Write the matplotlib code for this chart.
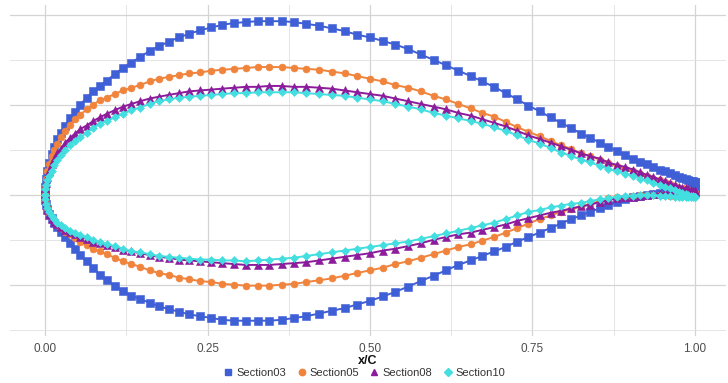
import matplotlib
matplotlib.use("Agg")
import matplotlib.pyplot as plt
from matplotlib.lines import Line2D

plt.rcParams["font.family"] = ["Liberation Sans", "DejaVu Sans"]

# chordwise stations (x/C), shared by all sections and both surfaces
x_c = [0.0, 0.0004, 0.0015, 0.0035, 0.006, 0.010, 0.014, 0.019, 0.024, 0.031,
       0.038, 0.046, 0.054, 0.064, 0.074, 0.084, 0.095, 0.107, 0.120, 0.133,
       0.146, 0.161, 0.175, 0.190, 0.206, 0.222, 0.239, 0.256, 0.273, 0.291,
       0.309, 0.327, 0.345, 0.364, 0.383, 0.402, 0.422, 0.441, 0.461, 0.480,
       0.500, 0.520, 0.539, 0.559, 0.578, 0.598, 0.617, 0.636, 0.655, 0.673,
       0.691, 0.709, 0.727, 0.744, 0.761, 0.778, 0.794, 0.810, 0.825, 0.839,
       0.854, 0.867, 0.880, 0.893, 0.905, 0.916, 0.926, 0.936, 0.946, 0.954,
       0.962, 0.969, 0.976, 0.981, 0.986, 0.990, 0.994, 0.997, 0.9996, 1.0]

sec03_upper = [0.000, 0.009, 0.018, 0.027, 0.035, 0.045, 0.053, 0.062, 0.069, 0.077,
               0.085, 0.092, 0.100, 0.108, 0.115, 0.121, 0.127, 0.134, 0.141, 0.147,
               0.153, 0.160, 0.165, 0.170, 0.175, 0.179, 0.183, 0.186, 0.189, 0.191,
               0.192, 0.193, 0.193, 0.193, 0.192, 0.190, 0.188, 0.185, 0.182, 0.178,
               0.175, 0.171, 0.167, 0.162, 0.156, 0.150, 0.144, 0.138, 0.132, 0.126,
               0.120, 0.113, 0.106, 0.099, 0.093, 0.086, 0.080, 0.074, 0.068, 0.063,
               0.058, 0.053, 0.049, 0.044, 0.040, 0.037, 0.034, 0.031, 0.028, 0.026,
               0.024, 0.022, 0.020, 0.019, 0.017, 0.016, 0.015, 0.015, 0.014, 0.014]
sec03_lower = [0.000, -0.005, -0.010, -0.016, -0.021, -0.026, -0.031, -0.036, -0.041, -0.047,
               -0.054, -0.060, -0.067, -0.074, -0.081, -0.089, -0.095, -0.101, -0.107, -0.112,
               -0.116, -0.120, -0.124, -0.127, -0.130, -0.133, -0.135, -0.137, -0.139, -0.140,
               -0.140, -0.140, -0.140, -0.139, -0.137, -0.135, -0.132, -0.129, -0.126, -0.122,
               -0.118, -0.113, -0.108, -0.102, -0.096, -0.090, -0.084, -0.078, -0.073, -0.068,
               -0.063, -0.058, -0.052, -0.047, -0.042, -0.037, -0.032, -0.027, -0.023, -0.019,
               -0.015, -0.011, -0.008, -0.005, -0.003, -0.001, 0.000, 0.001, 0.002, 0.003,
               0.003, 0.004, 0.004, 0.005, 0.005, 0.005, 0.006, 0.006, 0.006, 0.006]

sec05_upper = [0.000, 0.009, 0.017, 0.026, 0.034, 0.043, 0.050, 0.057, 0.064, 0.071,
               0.078, 0.084, 0.089, 0.095, 0.100, 0.105, 0.108, 0.112, 0.116, 0.119,
               0.122, 0.126, 0.129, 0.131, 0.133, 0.135, 0.136, 0.138, 0.139, 0.140,
               0.141, 0.142, 0.142, 0.142, 0.141, 0.140, 0.139, 0.137, 0.135, 0.132,
               0.129, 0.126, 0.122, 0.119, 0.115, 0.110, 0.106, 0.101, 0.096, 0.091,
               0.087, 0.081, 0.075, 0.070, 0.065, 0.060, 0.055, 0.051, 0.046, 0.043,
               0.039, 0.035, 0.032, 0.029, 0.026, 0.023, 0.021, 0.018, 0.016, 0.014,
               0.012, 0.010, 0.008, 0.007, 0.006, 0.005, 0.004, 0.003, 0.002, 0.002]
sec05_lower = [0.000, -0.005, -0.009, -0.015, -0.020, -0.026, -0.030, -0.034, -0.037, -0.041,
               -0.044, -0.048, -0.052, -0.056, -0.060, -0.063, -0.066, -0.070, -0.074, -0.077,
               -0.080, -0.084, -0.087, -0.089, -0.092, -0.094, -0.096, -0.097, -0.099, -0.100,
               -0.101, -0.101, -0.101, -0.100, -0.099, -0.097, -0.095, -0.093, -0.090, -0.087,
               -0.084, -0.081, -0.077, -0.074, -0.070, -0.066, -0.062, -0.058, -0.055, -0.051,
               -0.047, -0.042, -0.037, -0.032, -0.027, -0.023, -0.019, -0.016, -0.013, -0.010,
               -0.007, -0.004, -0.003, -0.002, -0.001, 0.000, 0.000, 0.000, 0.000, 0.000,
               -0.001, -0.001, -0.001, -0.001, -0.001, -0.001, -0.001, -0.001, -0.001, -0.001]

sec08_upper = [0.000, 0.007, 0.013, 0.020, 0.026, 0.034, 0.040, 0.046, 0.051, 0.058,
               0.063, 0.068, 0.073, 0.077, 0.082, 0.086, 0.090, 0.094, 0.098, 0.101,
               0.104, 0.107, 0.109, 0.111, 0.113, 0.115, 0.116, 0.117, 0.118, 0.119,
               0.120, 0.120, 0.121, 0.121, 0.120, 0.120, 0.119, 0.118, 0.116, 0.114,
               0.112, 0.110, 0.107, 0.104, 0.101, 0.098, 0.095, 0.091, 0.088, 0.084,
               0.080, 0.076, 0.071, 0.066, 0.062, 0.058, 0.054, 0.050, 0.046, 0.043,
               0.040, 0.036, 0.033, 0.031, 0.028, 0.025, 0.022, 0.020, 0.017, 0.015,
               0.013, 0.011, 0.009, 0.008, 0.007, 0.006, 0.005, 0.004, 0.004, 0.004]
sec08_lower = [0.000, -0.006, -0.011, -0.017, -0.022, -0.027, -0.030, -0.033, -0.036, -0.039,
               -0.041, -0.044, -0.047, -0.049, -0.052, -0.054, -0.056, -0.058, -0.061, -0.063,
               -0.065, -0.067, -0.069, -0.070, -0.072, -0.073, -0.074, -0.075, -0.076, -0.077,
               -0.078, -0.078, -0.078, -0.077, -0.076, -0.075, -0.073, -0.071, -0.069, -0.067,
               -0.065, -0.062, -0.060, -0.057, -0.054, -0.050, -0.047, -0.044, -0.042, -0.039,
               -0.036, -0.033, -0.029, -0.026, -0.023, -0.020, -0.018, -0.015, -0.013, -0.011,
               -0.008, -0.006, -0.004, -0.003, -0.002, -0.001, 0.000, 0.001, 0.001, 0.002,
               0.002, 0.002, 0.003, 0.003, 0.003, 0.003, 0.003, 0.003, 0.003, 0.003]

sec10_upper = [0.000, 0.006, 0.011, 0.016, 0.021, 0.027, 0.033, 0.039, 0.044, 0.050,
               0.055, 0.060, 0.064, 0.069, 0.074, 0.079, 0.082, 0.086, 0.090, 0.094,
               0.097, 0.101, 0.104, 0.106, 0.108, 0.109, 0.110, 0.111, 0.112, 0.113,
               0.113, 0.114, 0.114, 0.114, 0.114, 0.113, 0.112, 0.111, 0.110, 0.108,
               0.106, 0.104, 0.101, 0.098, 0.095, 0.091, 0.088, 0.085, 0.082, 0.079,
               0.075, 0.071, 0.066, 0.061, 0.057, 0.052, 0.047, 0.043, 0.039, 0.036,
               0.032, 0.029, 0.026, 0.023, 0.021, 0.018, 0.016, 0.013, 0.011, 0.009,
               0.007, 0.005, 0.003, 0.002, 0.001, 0.000, -0.001, -0.001, -0.002, -0.002]
sec10_lower = [0.000, -0.005, -0.010, -0.015, -0.019, -0.024, -0.027, -0.031, -0.034, -0.037,
               -0.040, -0.043, -0.045, -0.047, -0.050, -0.053, -0.055, -0.057, -0.060, -0.063,
               -0.064, -0.066, -0.068, -0.069, -0.070, -0.071, -0.072, -0.072, -0.073, -0.073,
               -0.074, -0.073, -0.072, -0.071, -0.070, -0.068, -0.066, -0.064, -0.062, -0.060,
               -0.058, -0.056, -0.054, -0.052, -0.049, -0.046, -0.043, -0.040, -0.037, -0.034,
               -0.031, -0.027, -0.023, -0.019, -0.017, -0.014, -0.012, -0.010, -0.009, -0.007,
               -0.005, -0.004, -0.002, -0.001, -0.001, 0.000, 0.000, 0.000, -0.001, -0.001,
               -0.001, -0.002, -0.002, -0.002, -0.002, -0.003, -0.003, -0.003, -0.003, -0.003]

section_names = ["Section03", "Section05", "Section08", "Section10"]
x_ticks = [0.0, 0.25, 0.5, 0.75, 1.0]
x_tick_labels = ["0.00", "0.25", "0.50", "0.75", "1.00"]

series = [
    (section_names[0], sec03_upper, sec03_lower, "#3F5FD6", "s", 5.2),
    (section_names[1], sec05_upper, sec05_lower, "#F0843C", "o", 5.0),
    (section_names[2], sec08_upper, sec08_lower, "#8C1C9C", "^", 5.2),
    (section_names[3], sec10_upper, sec10_lower, "#43DEDF", "D", 3.8),
]

fig = plt.figure(figsize=(7.28, 3.83), dpi=100)
ax = fig.add_axes([10 / 728, 47 / 383, 716 / 728, 331 / 383])

ax.set_xlim(-0.054, 1.048)
ax.set_ylim(-0.157, 0.211)

# grid (ggplot minimal look)
for v in [0.125, 0.375, 0.625, 0.875]:
    ax.axvline(v, color="#E1E1E1", lw=0.6, zorder=0)
for v in x_ticks:
    ax.axvline(v, color="#D4D4D4", lw=0.9, zorder=0)
for v in [0.15, 0.05, -0.05, -0.15]:
    ax.axhline(v, color="#E1E1E1", lw=0.6, zorder=0)
for v in [0.2, 0.1, 0.0, -0.1]:
    ax.axhline(v, color="#D4D4D4", lw=0.9, zorder=0)

handles = []
for k, (name, up, lo, col, mk, ms) in enumerate(series):
    for yy in (up, lo):
        ax.plot(x_c, yy, color=col, lw=1.4, marker=mk, ms=ms, mec=col, mfc=col,
                mew=0.4, zorder=2 + k)
    handles.append(Line2D([], [], ls="none", marker=mk, color=col,
                          ms=(4.6 if mk != "D" else 3.6), label=name))

for s in ax.spines.values():
    s.set_visible(False)
ax.set_xticks(x_ticks)
ax.set_xticklabels(x_tick_labels)
ax.set_yticks([])
ax.tick_params(axis="x", length=0, pad=5, labelsize=8.5, labelcolor="#4D4D4D")
ax.set_xlabel("x/C", fontsize=9, fontweight="bold", labelpad=0, color="#111111")

fig.legend(handles=handles, loc="center", bbox_to_anchor=(0.5, 10 / 383), ncol=4,
           frameon=False, fontsize=8, handletextpad=0.2, columnspacing=0.9,
           handlelength=1.0, labelcolor="#333333")

fig.savefig("out.png", dpi=100, facecolor="white")
